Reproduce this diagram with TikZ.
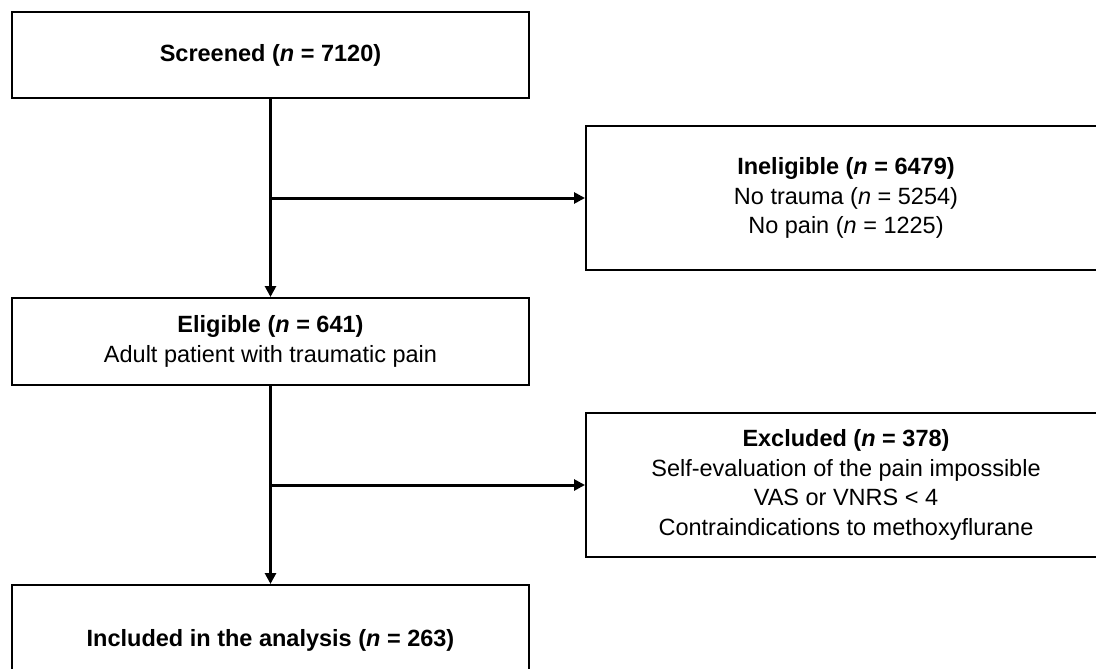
\documentclass[tikz,border=0pt]{standalone}
\usepackage{fontspec}
\setmainfont{Liberation Sans}
\usetikzlibrary{arrows.meta}
\begin{document}
\begin{tikzpicture}[x=1pt,y=-1pt,
    box/.style={draw,line width=2pt,align=center,inner sep=0pt,
        font=\fontsize{23.5}{29.5}\selectfont},
    arr/.style={line width=3pt,-{Triangle[length=11pt,width=11pt]}}]
    \useasboundingbox (0,0) rectangle (1096,669);
    \clip (0,0) rectangle (1096,669);
    \node[box,minimum width=517pt,minimum height=86pt] (screened) at (270.5,55)
        {\textbf{Screened (\textit{n} = 7120)}};
    \node[box,minimum width=520pt,minimum height=144pt] (inelig) at (846,198)
        {\textbf{Ineligible (\textit{n} = 6479)}\\No trauma (\textit{n} = 5254)\\No pain (\textit{n} = 1225)};
    \node[box,minimum width=517pt,minimum height=87pt] (elig) at (270.5,341.5)
        {\textbf{Eligible (\textit{n} = 641)}\\Adult patient with traumatic pain};
    \node[box,minimum width=520pt,minimum height=144pt] (excl) at (846,485)
        {\textbf{Excluded (\textit{n} = 378)}\\Self-evaluation of the pain impossible\\VAS or VNRS < 4\\Contraindications to methoxyflurane};
    \node[box,minimum width=517pt,minimum height=110pt] (incl) at (270.5,640)
        {\textbf{Included in the analysis (\textit{n} = 263)}};
    % branches
    \coordinate (b1) at (screened.south |- inelig.west);
    \coordinate (b2) at (elig.south |- excl.west);
    \draw[arr] (screened.south) -- (elig.north);
    \draw[arr] (b1) -- (inelig.west);
    \draw[arr] (elig.south) -- (incl.north);
    \draw[arr] (b2) -- (excl.west);
\end{tikzpicture}
\end{document}
